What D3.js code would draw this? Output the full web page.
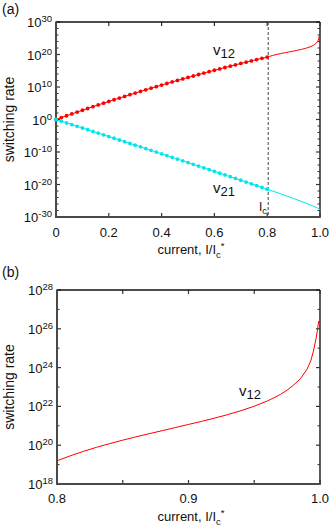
<!DOCTYPE html>
<html><head><meta charset="utf-8">
<script src="https://cdn.jsdelivr.net/npm/d3@7"></script>
<style>
html,body{margin:0;padding:0;background:#fff;}
svg text{font-family:"Liberation Sans",Arial,sans-serif;fill:#111;}
</style></head>
<body>
<svg id="c" width="332" height="526"></svg>
<script>
// ---------- data (log10 of switching rate) ----------
const dotCurrent = [0,0.02,0.04,0.06,0.08,0.10,0.12,0.14,0.16,0.18,0.20,0.22,0.24,0.26,0.28,0.30,0.32,0.34,0.36,0.38,0.40,0.42,0.44,0.46,0.48,0.50,0.52,0.54,0.56,0.58,0.60,0.62,0.64,0.66,0.68,0.70,0.72,0.74,0.76,0.78,0.80];
const v12DotsLog = [0,0.58,1.15,1.72,2.28,2.84,3.39,3.94,4.49,5.02,5.55,6.08,6.60,7.11,7.63,8.14,8.64,9.14,9.63,10.11,10.60,11.07,11.55,12.02,12.48,12.94,13.39,13.84,14.28,14.72,15.15,15.57,16.00,16.42,16.83,17.24,17.64,18.03,18.43,18.82,19.20];
const v21DotsLog = [0,-0.52,-1.04,-1.56,-2.09,-2.61,-3.13,-3.66,-4.19,-4.71,-5.24,-5.77,-6.30,-6.83,-7.36,-7.89,-8.42,-8.96,-9.49,-10.02,-10.56,-11.10,-11.63,-12.17,-12.71,-13.25,-13.79,-14.33,-14.87,-15.42,-15.96,-16.50,-17.05,-17.60,-18.14,-18.69,-19.24,-19.79,-20.34,-20.89,-21.44];
const v12LineCurrent = [0.800,0.810,0.820,0.830,0.840,0.850,0.860,0.870,0.880,0.890,0.900,0.910,0.920,0.930,0.940,0.950,0.960,0.970,0.975,0.980,0.985,0.990,0.993,0.995,0.997,0.998,0.999];
const v12LineLog = [19.20,19.45,19.68,19.89,20.08,20.26,20.43,20.59,20.75,20.91,21.07,21.23,21.40,21.58,21.78,22.01,22.28,22.62,22.84,23.10,23.42,23.90,24.35,24.85,25.50,25.90,26.40];
const v21LineCurrent = [0.80,0.85,0.90,0.95,0.97,0.99,1.00];
const v21LineLog = [-21.44,-22.85,-24.30,-25.85,-26.50,-27.20,-27.75];
const criticalCurrent = 0.8;
const xTicksA = [0,0.2,0.4,0.6,0.8,1.0];
const xTickLabelsA = ["0","0.2","0.4","0.6","0.8","1.0"];
const yTicksA = [-30,-20,-10,0,10,20,30];
const xTicksB = [0.8,0.85,0.9,0.95,1.0];
const xTickLabelsB = ["0.8","","0.9","","1.0"];
const yTicksB = [18,20,22,24,26,28];

const svg = d3.select("#c");
const RED = "#ff0000", CYAN = "#00e5ee";

function panel(opt){
  const g = svg.append("g");
  const x = d3.scaleLinear().domain(opt.xDomain).range([opt.left, opt.right]);
  const y = d3.scaleLog().domain(opt.yDomain).range([opt.bottom, opt.top]);
  opt.yMinor.forEach(e=>{
    const yy = y(Math.pow(10,e));
    g.append("line").attr("x1",opt.left).attr("x2",opt.left+2.5).attr("y1",yy).attr("y2",yy).attr("stroke","#333").attr("stroke-width",1);
    g.append("line").attr("x1",opt.right).attr("x2",opt.right-2.5).attr("y1",yy).attr("y2",yy).attr("stroke","#333").attr("stroke-width",1);
  });
  opt.yTicks.forEach(e=>{
    const yy = y(Math.pow(10,e));
    g.append("line").attr("x1",opt.left).attr("x2",opt.left+4).attr("y1",yy).attr("y2",yy).attr("stroke","#333").attr("stroke-width",1.2);
    g.append("line").attr("x1",opt.right).attr("x2",opt.right-4).attr("y1",yy).attr("y2",yy).attr("stroke","#333").attr("stroke-width",1.2);
    const t = g.append("text").attr("x",opt.left-4).attr("y",yy+5).attr("text-anchor","end").style("font-size","13px");
    t.append("tspan").text("10");
    t.append("tspan").attr("dy",-5).style("font-size","9.5px").text(String(e));
  });
  opt.xTicks.forEach((v,i)=>{
    const xx = x(v);
    g.append("line").attr("x1",xx).attr("x2",xx).attr("y1",opt.bottom).attr("y2",opt.bottom-4).attr("stroke","#333").attr("stroke-width",1.2);
    g.append("line").attr("x1",xx).attr("x2",xx).attr("y1",opt.top).attr("y2",opt.top+4).attr("stroke","#333").attr("stroke-width",1.2);
    if(opt.xLabels[i]) g.append("text").attr("x",xx).attr("y",opt.bottom+opt.xLabelDy).attr("text-anchor","middle").style("font-size","13px").text(opt.xLabels[i]);
  });
  g.append("line").attr("x1",opt.left).attr("x2",opt.right).attr("y1",opt.top).attr("y2",opt.top).attr("stroke","#111").attr("stroke-width",1.3);
  g.append("line").attr("x1",opt.right).attr("x2",opt.right).attr("y1",opt.top).attr("y2",opt.bottom).attr("stroke","#333").attr("stroke-width",1.6);
  g.append("line").attr("x1",opt.left).attr("x2",opt.left).attr("y1",opt.top-0.6).attr("y2",opt.bottom+1).attr("stroke","#4a4a4a").attr("stroke-width",2);
  g.append("line").attr("x1",opt.left-1).attr("x2",opt.right+0.8).attr("y1",opt.bottom).attr("y2",opt.bottom).attr("stroke","#4a4a4a").attr("stroke-width",2);
  g.append("text").attr("transform",`translate(${opt.yTitleX},${(opt.top+opt.bottom)/2}) rotate(-90)`).attr("text-anchor","middle").style("font-size","14px").text("switching rate");
  const xt = g.append("text").attr("x",opt.xTitleX).attr("y",opt.bottom+opt.xTitleDy).attr("text-anchor","middle").style("font-size","13px");
  xt.append("tspan").text("current, I/I");
  xt.append("tspan").attr("dy",4).style("font-size","9.5px").text("c");
  xt.append("tspan").attr("dy",-9).style("font-size","9.5px").text("*");
  g.append("text").attr("x",2).attr("y",opt.top+opt.panelLabelDy).style("font-size","14px").text(opt.panelLabel);
  return {g,x,y};
}

// ---------- panel (a) ----------
const A = panel({left:56,right:320,top:22,bottom:217,xDomain:[0,1],yDomain:[1e-30,1e30],
  yTicks:yTicksA, yMinor:[-28,-26,-24,-22,-18,-16,-14,-12,-8,-6,-4,-2,2,4,6,8,12,14,16,18,22,24,26,28],
  xTicks:xTicksA, xLabels:xTickLabelsA, xLabelDy:20, xTitleDy:37, xTitleX:191, yTitleX:14, panelLabel:"(a)", panelLabelDy:-8});
const lineA = d3.line().x(d=>A.x(d[0])).y(d=>A.y(Math.pow(10,d[1])));
A.g.append("line").attr("x1",A.x(criticalCurrent)+1).attr("x2",A.x(criticalCurrent)+1).attr("y1",22).attr("y2",217)
  .attr("stroke","#444").attr("stroke-width",1).attr("stroke-dasharray","3,2");
const redDots = dotCurrent.map((c,i)=>[c,v12DotsLog[i]]);
const cyanDots = dotCurrent.map((c,i)=>[c,v21DotsLog[i]]);
A.g.append("path").attr("d",lineA(redDots)).attr("fill","none").attr("stroke",RED).attr("stroke-width",1);
A.g.append("path").attr("d",lineA(cyanDots)).attr("fill","none").attr("stroke",CYAN).attr("stroke-width",1);
A.g.append("path").attr("d",lineA(v12LineCurrent.map((c,i)=>[c,v12LineLog[i]]))).attr("fill","none").attr("stroke",RED).attr("stroke-width",1);
A.g.append("path").attr("d",lineA(v21LineCurrent.map((c,i)=>[c,v21LineLog[i]]))).attr("fill","none").attr("stroke",CYAN).attr("stroke-width",1);
A.g.selectAll(".rd").data(redDots).join("circle").attr("cx",d=>A.x(d[0])).attr("cy",d=>A.y(Math.pow(10,d[1]))).attr("r",1.9).attr("fill",RED);
A.g.selectAll(".cd").data(cyanDots).join("circle").attr("cx",d=>A.x(d[0])).attr("cy",d=>A.y(Math.pow(10,d[1]))).attr("r",1.9).attr("fill",CYAN);
function nu(g,x,y,sub){
  const t = g.append("text").attr("x",x).attr("y",y).style("font-size","15px");
  t.append("tspan").text("v");
  t.append("tspan").attr("dy",3).style("font-size","13px").text(sub);
}
nu(A.g,213,55,"12");
nu(A.g,213,193,"21");
const ic = A.g.append("text").attr("x",259).attr("y",211).style("font-size","12px");
ic.append("tspan").text("I");
ic.append("tspan").attr("dy",3).style("font-size","9px").text("c");

// ---------- panel (b) ----------
const B = panel({left:57,right:320,top:290,bottom:484,xDomain:[0.8,1.0],yDomain:[1e18,1e28],
  yTicks:yTicksB, yMinor:[19,21,23,25,27],
  xTicks:xTicksB, xLabels:xTickLabelsB, xLabelDy:19, xTitleDy:37, xTitleX:191, yTitleX:14, panelLabel:"(b)", panelLabelDy:-13});
const lineB = d3.line().x(d=>B.x(d[0])).y(d=>B.y(Math.pow(10,d[1])));
B.g.append("path").attr("d",lineB(v12LineCurrent.map((c,i)=>[c,v12LineLog[i]]))).attr("fill","none").attr("stroke",RED).attr("stroke-width",1);
nu(B.g,239,396,"12");
</script>
</body></html>
